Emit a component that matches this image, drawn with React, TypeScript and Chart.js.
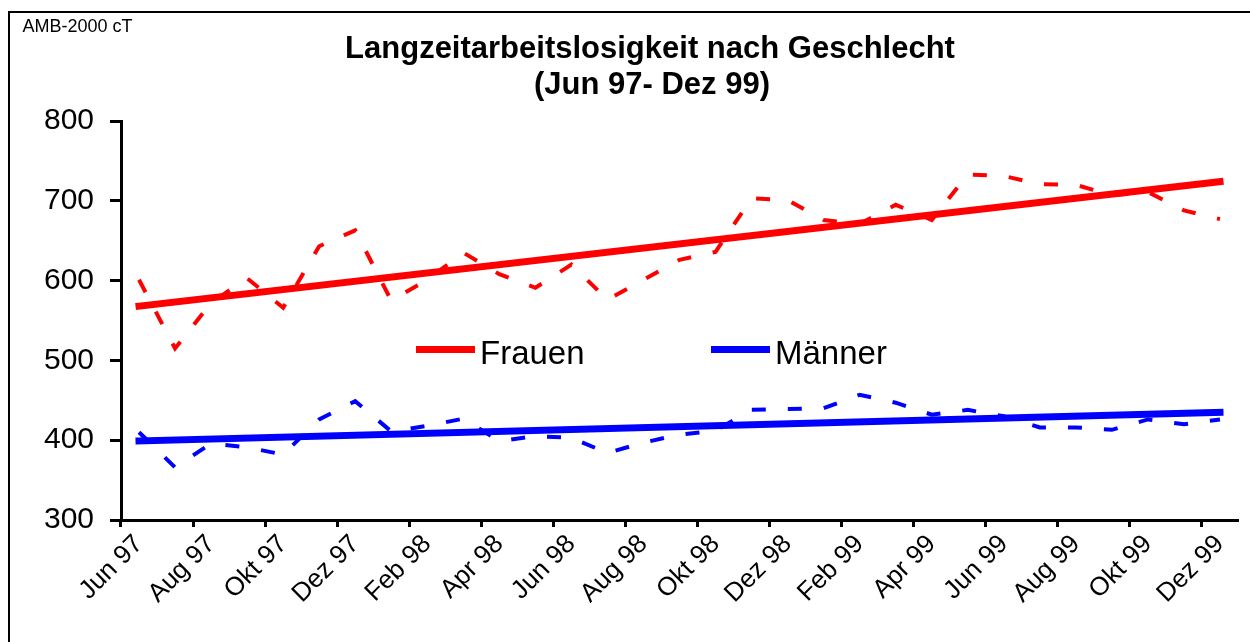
import React, { useEffect, useRef } from 'react';
import { Chart, registerables } from 'chart.js';

Chart.register(...registerables);

const FONT = "'Liberation Sans', Arial, Helvetica, sans-serif";

const months = [
  'Jun 97', 'Jul 97', 'Aug 97', 'Sep 97', 'Okt 97', 'Nov 97', 'Dez 97',
  'Jan 98', 'Feb 98', 'Mrz 98', 'Apr 98', 'Mai 98', 'Jun 98', 'Jul 98', 'Aug 98', 'Sep 98', 'Okt 98', 'Nov 98', 'Dez 98',
  'Jan 99', 'Feb 99', 'Mrz 99', 'Apr 99', 'Mai 99', 'Jun 99', 'Jul 99', 'Aug 99', 'Sep 99', 'Okt 99', 'Nov 99', 'Dez 99',
];

const frauen = [
  601, 515, 572, 603, 566, 643, 663, 575, 601, 635, 608, 591, 620, 576, 601, 626,
  636, 703, 701, 676, 671, 695, 676, 733, 731, 721, 720, 707, 711, 688, 677,
];

const maenner = [
  410, 366, 396, 391, 382, 426, 449, 411, 418, 427, 399, 405, 403, 384, 397, 407,
  412, 438, 439, 440, 457, 447, 432, 438, 430, 416, 416, 413, 426, 420, 426,
];

// trend lines (start value at first month, end value at last month)
const frauenTrend = [568, 724];
const maennerTrend = [399, 435];

const yTicks = [300, 400, 500, 600, 700, 800];

const titleLines = ['Langzeitarbeitslosigkeit nach Geschlecht', '(Jun 97- Dez 99)'];
const sourceNote = 'AMB-2000 cT';
const legendLabels = ['Frauen', 'Männer'];

const RED = '#FF0000';
const BLUE = '#0000FF';

const textPlugin = {
  id: 'chartTexts',
  afterDraw(chart: any) {
    const ctx = chart.ctx as CanvasRenderingContext2D;
    ctx.save();
    ctx.fillStyle = '#000';
    ctx.textBaseline = 'alphabetic';
    ctx.textAlign = 'center';
    ctx.font = `bold 31px ${FONT}`;
    ctx.fillText(titleLines[0], 640, 45);
    ctx.fillText(titleLines[1], 642, 81);

    ctx.textAlign = 'left';
    ctx.font = `18px ${FONT}`;
    ctx.fillText(sourceNote, 12.5, 18.5);

    // legend
    const colors = [RED, BLUE];
    const starts = [406, 701];
    ctx.font = `33px ${FONT}`;
    legendLabels.forEach((lab, i) => {
      ctx.strokeStyle = colors[i];
      ctx.lineWidth = 7;
      ctx.lineCap = 'butt';
      ctx.beginPath();
      ctx.moveTo(starts[i], 336.5);
      ctx.lineTo(starts[i] + 59, 336.5);
      ctx.stroke();
      ctx.fillStyle = '#000';
      ctx.fillText(lab, starts[i] + 64, 350.5);
    });
    ctx.restore();
  },
};

export default function App() {
  const canvasRef = useRef<HTMLCanvasElement | null>(null);

  useEffect(() => {
    if (!canvasRef.current) return;
    const last = months[months.length - 1];
    const chart = new Chart(canvasRef.current, {
      type: 'line',
      data: {
        labels: months,
        datasets: [
          {
            label: legendLabels[0],
            data: [
              { x: months[0], y: frauenTrend[0] },
              { x: last, y: frauenTrend[1] },
            ] as any,
            borderColor: RED,
            borderWidth: 7,
            borderCapStyle: 'square',
            pointRadius: 0,
            tension: 0,
          },
          {
            label: legendLabels[1],
            data: [
              { x: months[0], y: maennerTrend[0] },
              { x: last, y: maennerTrend[1] },
            ] as any,
            borderColor: BLUE,
            borderWidth: 7,
            borderCapStyle: 'square',
            pointRadius: 0,
            tension: 0,
          },
          {
            label: 'Frauen (Monatswerte)',
            data: frauen,
            borderColor: RED,
            borderWidth: 4,
            borderDash: [14, 22],
            pointRadius: 0,
            tension: 0,
          },
          {
            label: 'Männer (Monatswerte)',
            data: maenner,
            borderColor: BLUE,
            borderWidth: 4,
            borderDash: [14, 22],
            pointRadius: 0,
            tension: 0,
          },
        ],
      },
      options: {
        responsive: false,
        animation: false,
        devicePixelRatio: 1,
        layout: { padding: { top: 108, right: 12, left: 0, bottom: 0 } },
        plugins: {
          legend: { display: false },
          title: { display: false },
          tooltip: { enabled: false },
        },
        scales: {
          x: {
            type: 'category',
            offset: true,
            afterFit: (scale: any) => {
              scale.height = 122;
            },
            border: { display: true, color: '#000', width: 3 },
            grid: {
              offset: true,
              drawOnChartArea: false,
              drawTicks: true,
              tickLength: 7,
              tickWidth: 3,
              tickColor: (c: any) =>
                c.type === 'tick' && c.index % 2 === 0 ? '#000' : 'rgba(0,0,0,0)',
              color: 'rgba(0,0,0,0)',
            },
            ticks: {
              autoSkip: false,
              maxRotation: 45,
              minRotation: 45,
              padding: 2,
              color: '#000',
              font: { family: FONT, size: 26 },
              callback: (_v: any, i: number) => (i % 2 === 0 ? months[i] : ''),
            },
          },
          y: {
            min: yTicks[0],
            max: yTicks[yTicks.length - 1],
            afterFit: (scale: any) => {
              scale.width = 111;
            },
            afterBuildTicks: (scale: any) => {
              scale.ticks = yTicks.map((v) => ({ value: v }));
            },
            border: { display: true, color: '#000', width: 3 },
            grid: {
              drawOnChartArea: false,
              drawTicks: true,
              tickLength: 11,
              tickWidth: 3,
              tickColor: '#000',
              color: 'rgba(0,0,0,0)',
            },
            ticks: {
              padding: 16,
              color: '#000',
              font: { family: FONT, size: 30 },
            },
          },
        },
      } as any,
      plugins: [textPlugin],
    });
    return () => chart.destroy();
  }, []);

  return (
    <div
      style={{
        position: 'absolute',
        left: 8,
        top: 11,
        width: 1242,
        height: 631,
        boxSizing: 'border-box',
        borderTop: '2px solid #000',
        borderLeft: '2px solid #000',
        background: '#fff',
      }}
    >
      <canvas ref={canvasRef} width={1240} height={629} style={{ display: 'block' }} />
    </div>
  );
}
